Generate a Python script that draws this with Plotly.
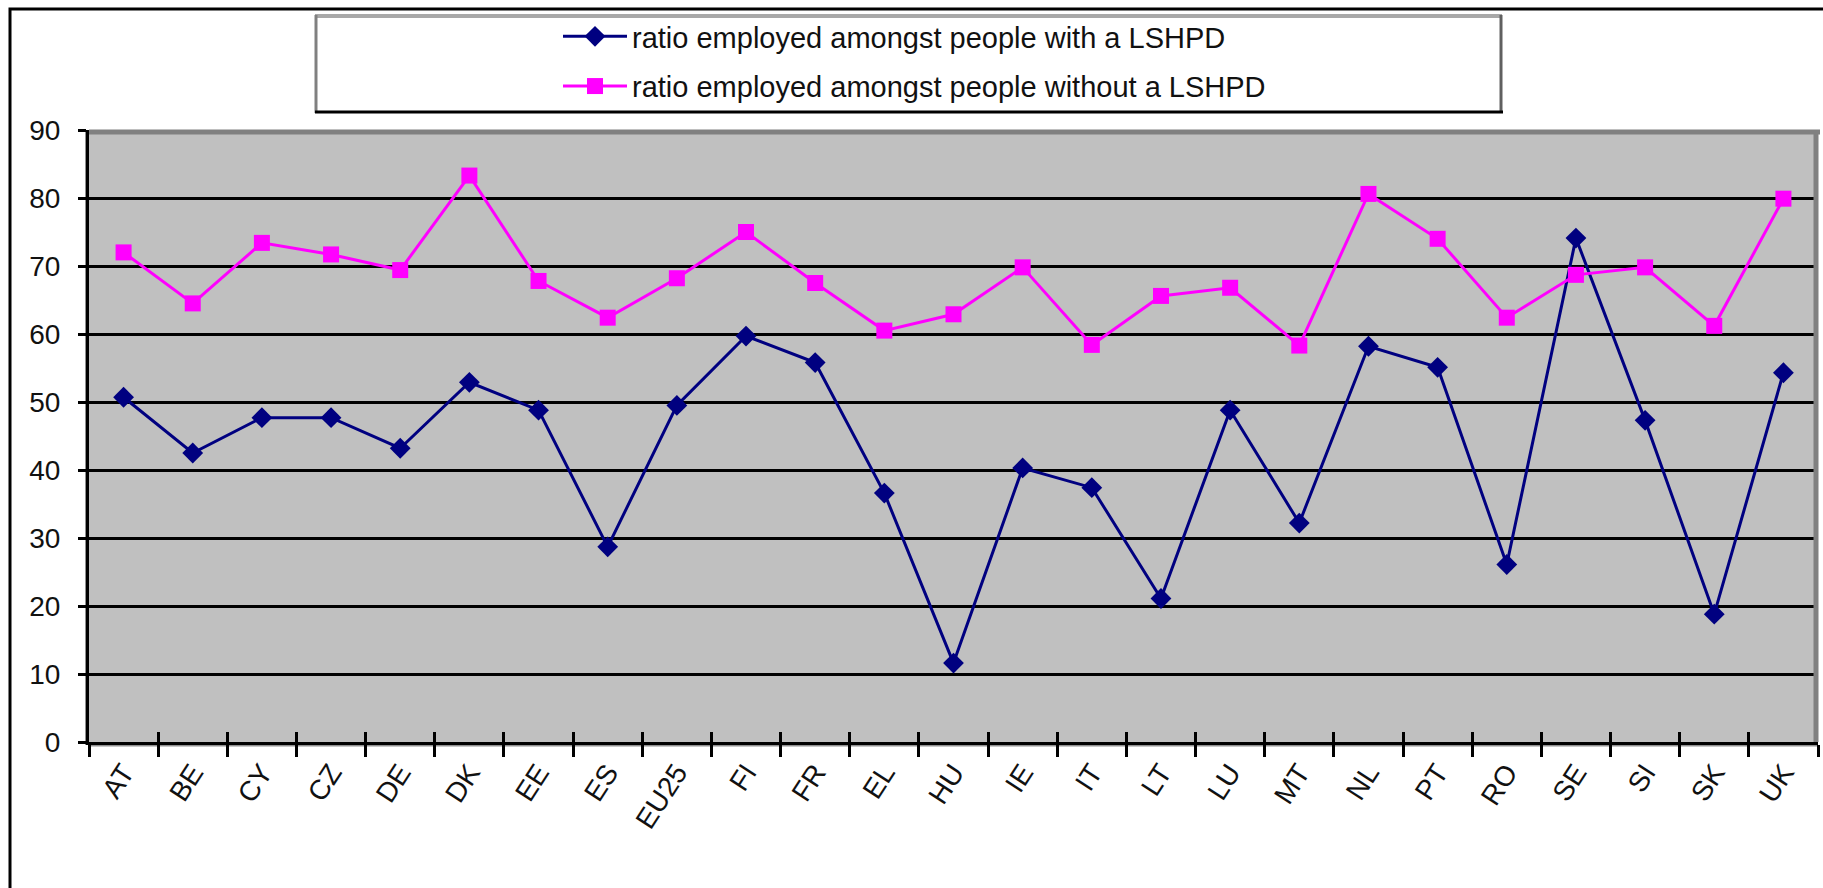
import plotly.graph_objects as go

categories = ["AT", "BE", "CY", "CZ", "DE", "DK", "EE", "ES", "EU25", "FI", "FR", "EL", "HU",
              "IE", "IT", "LT", "LU", "MT", "NL", "PT", "RO", "SE", "SI", "SK", "UK"]
with_lshpd = [50.7, 42.5, 47.7, 47.7, 43.2, 52.9, 48.8, 28.7, 49.5, 59.7, 55.8, 36.6, 11.6,
              40.3, 37.4, 21.1, 48.8, 32.2, 58.2, 55.1, 26.1, 74.1, 47.3, 18.8, 54.3]
without_lshpd = [72.0, 64.5, 73.4, 71.7, 69.4, 83.3, 67.8, 62.4, 68.2, 75.0, 67.5, 60.5, 62.9,
                 69.8, 58.4, 65.6, 66.8, 58.3, 80.6, 74.0, 62.4, 68.7, 69.8, 61.2, 79.9]
y_ticks = [0, 10, 20, 30, 40, 50, 60, 70, 80, 90]
series_names = ["ratio employed amongst people with a LSHPD",
                "ratio employed amongst people without a LSHPD"]

W, H = 1823, 888
L, R, T, B = 89, 1818, 130, 742
FONT = "Liberation Sans, Arial, sans-serif"


def px(x):
    return (x - L) / (R - L)


def py(y):
    return (B - y) / (B - T)


fig = go.Figure()
fig.add_trace(go.Scatter(
    x=categories, y=with_lshpd, name=series_names[0], mode="lines+markers",
    line=dict(color="#000080", width=3),
    marker=dict(symbol="diamond", size=16, color="#000080"),
    legendgroup="a"))
fig.add_trace(go.Scatter(
    x=categories, y=without_lshpd, name=series_names[1], mode="lines+markers",
    line=dict(color="#FF00FF", width=3),
    marker=dict(symbol="square", size=16, color="#FF00FF"),
    legendgroup="b"))

n = len(categories)
boundaries = [i - 0.5 for i in range(n + 1)]

# invisible helper trace so the overlaid tick axis (crossing tick marks) is drawn
fig.add_trace(go.Scatter(
    x=[boundaries[0], boundaries[-1]], y=[y_ticks[0], y_ticks[0]], xaxis="x2", yaxis="y",
    mode="lines", line=dict(width=0, color="rgba(0,0,0,0)"),
    showlegend=False, hoverinfo="skip"))

shapes = [
    # outer chart frame
    dict(type="rect", xref="paper", yref="paper", x0=px(10), x1=px(1850), y0=py(9), y1=py(920),
         line=dict(color="black", width=3), layer="above"),
    # legend box
    dict(type="rect", xref="paper", yref="paper", x0=px(315), x1=px(1502), y0=py(15), y1=py(113),
         line=dict(width=0), fillcolor="white", layer="below"),
    dict(type="line", xref="paper", yref="paper", x0=px(315), x1=px(1502), y0=py(16), y1=py(16),
         line=dict(color="#a8a8a8", width=4)),
    dict(type="line", xref="paper", yref="paper", x0=px(316), x1=px(316), y0=py(15), y1=py(113),
         line=dict(color="#808080", width=3)),
    dict(type="line", xref="paper", yref="paper", x0=px(1501), x1=px(1501), y0=py(15), y1=py(113),
         line=dict(color="#606060", width=3)),
    dict(type="line", xref="paper", yref="paper", x0=px(315), x1=px(1503), y0=py(112), y1=py(112),
         line=dict(color="black", width=3)),
    # plot area shadow borders
    dict(type="line", xref="paper", yref="paper", x0=px(89), x1=px(1820), y0=py(132), y1=py(132),
         line=dict(color="#808080", width=5), layer="above"),
    dict(type="line", xref="paper", yref="paper", x0=px(1816), x1=px(1816), y0=py(130), y1=py(742),
         line=dict(color="#808080", width=5), layer="above"),
    dict(type="line", xref="paper", yref="paper", x0=px(86), x1=px(86), y0=py(130), y1=py(745),
         line=dict(color="#909090", width=2), layer="below"),
    dict(type="line", xref="paper", yref="paper", x0=px(89), x1=px(1818), y0=py(745), y1=py(745),
         line=dict(color="#909090", width=3), layer="below"),
]

fig.update_layout(
    width=W, height=H,
    margin=dict(l=L, r=W - R, t=T, b=H - B, pad=0, autoexpand=False),
    paper_bgcolor="white", plot_bgcolor="#c0c0c0",
    font=dict(family=FONT, size=28, color="#111111"),
    showlegend=True,
    legend=dict(
        xref="container", yref="container",
        x=558 / W, y=1 - 11 / H, xanchor="left", yanchor="top",
        bgcolor="rgba(0,0,0,0)", borderwidth=0,
        font=dict(family=FONT, size=29, color="#111111"),
        itemwidth=64, tracegroupgap=9,
    ),
    xaxis=dict(
        type="category", range=[-0.5, n - 0.5], tickson="boundaries",
        ticks="outside", ticklen=12, tickwidth=3, tickcolor="black",
        showline=True, linecolor="black", linewidth=3,
        showgrid=False, zeroline=False, tickangle=-57,
        tickfont=dict(family=FONT, size=28, color="#111111"),
    ),
    xaxis2=dict(
        overlaying="x", anchor="y", side="bottom", range=[-0.5, n - 0.5],
        tickmode="array", tickvals=boundaries, ticks="inside", ticklen=10,
        tickwidth=3, tickcolor="black", showticklabels=False,
        showgrid=False, zeroline=False, showline=False,
    ),
    yaxis=dict(
        range=[0, 90], tickmode="array", tickvals=y_ticks,
        ticks="outside", ticklen=8, tickwidth=3, tickcolor="black",
        showline=True, linecolor="black", linewidth=3,
        showgrid=True, gridcolor="black", gridwidth=2.5, zeroline=False,
        tickfont=dict(family=FONT, size=28, color="#111111"),
        ticklabelstandoff=12,
    ),
    shapes=shapes,
)

fig.write_html("out.html", config={"displayModeBar": False},
               post_script="document.body.style.margin='0';document.body.style.overflow='hidden';")
